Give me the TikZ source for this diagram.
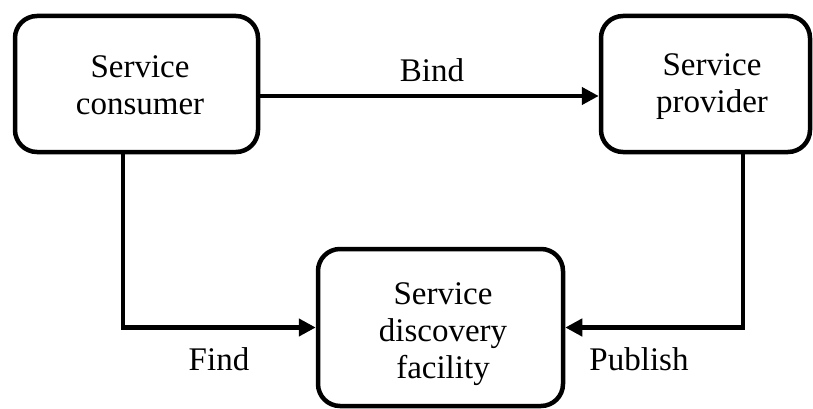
\documentclass[tikz,border=0pt]{standalone}
\usepackage{fontspec}
\setmainfont{Liberation Serif}
\usetikzlibrary{arrows.meta}
\begin{document}
\begin{tikzpicture}[x=1pt,y=-1pt,
  box/.style={draw, line width=4.5pt, rounded corners=22pt, inner sep=0pt},
  txt/.style={align=center, inner sep=0pt, font=\fontsize{33}{37}\selectfont},
  flow/.style={line width=4.5pt, -{Triangle[length=17pt,width=17pt]}},
  tag/.style={anchor=base, inner sep=0pt, font=\fontsize{33}{37}\selectfont}]
\useasboundingbox (0,0) rectangle (813,409);
% the three parties
\node[box, minimum width=243pt, minimum height=136pt] (c) at (136.5,84) {};
\node[box, minimum width=209pt, minimum height=136pt] (p) at (705.5,84) {};
\node[box, minimum width=245pt, minimum height=157pt] (d) at (440.5,327.5) {};
\node[txt] (ct) at (140,85.5) {Service\\consumer};
\node[txt] (pt) at (712,87) {Service\\provider};
\node[txt] (dt) at (443,334) {Service\\discovery\\facility};
% routing helpers
\coordinate (by) at (0,96);
\coordinate (fx) at (123,0);
\coordinate (px) at (743,0);
% connectors
\draw[flow] (c.east |- by) -- (p.west |- by);
\draw[flow] (c.south -| fx) |- (d.west);
\draw[flow] (p.south -| px) |- (d.east);
% labels
\node[tag] (lb) at (432,82) {Bind};
\node[tag] (lf) at (219,370) {Find};
\node[tag] (lp) at (639,370) {Publish};
\end{tikzpicture}
\end{document}
